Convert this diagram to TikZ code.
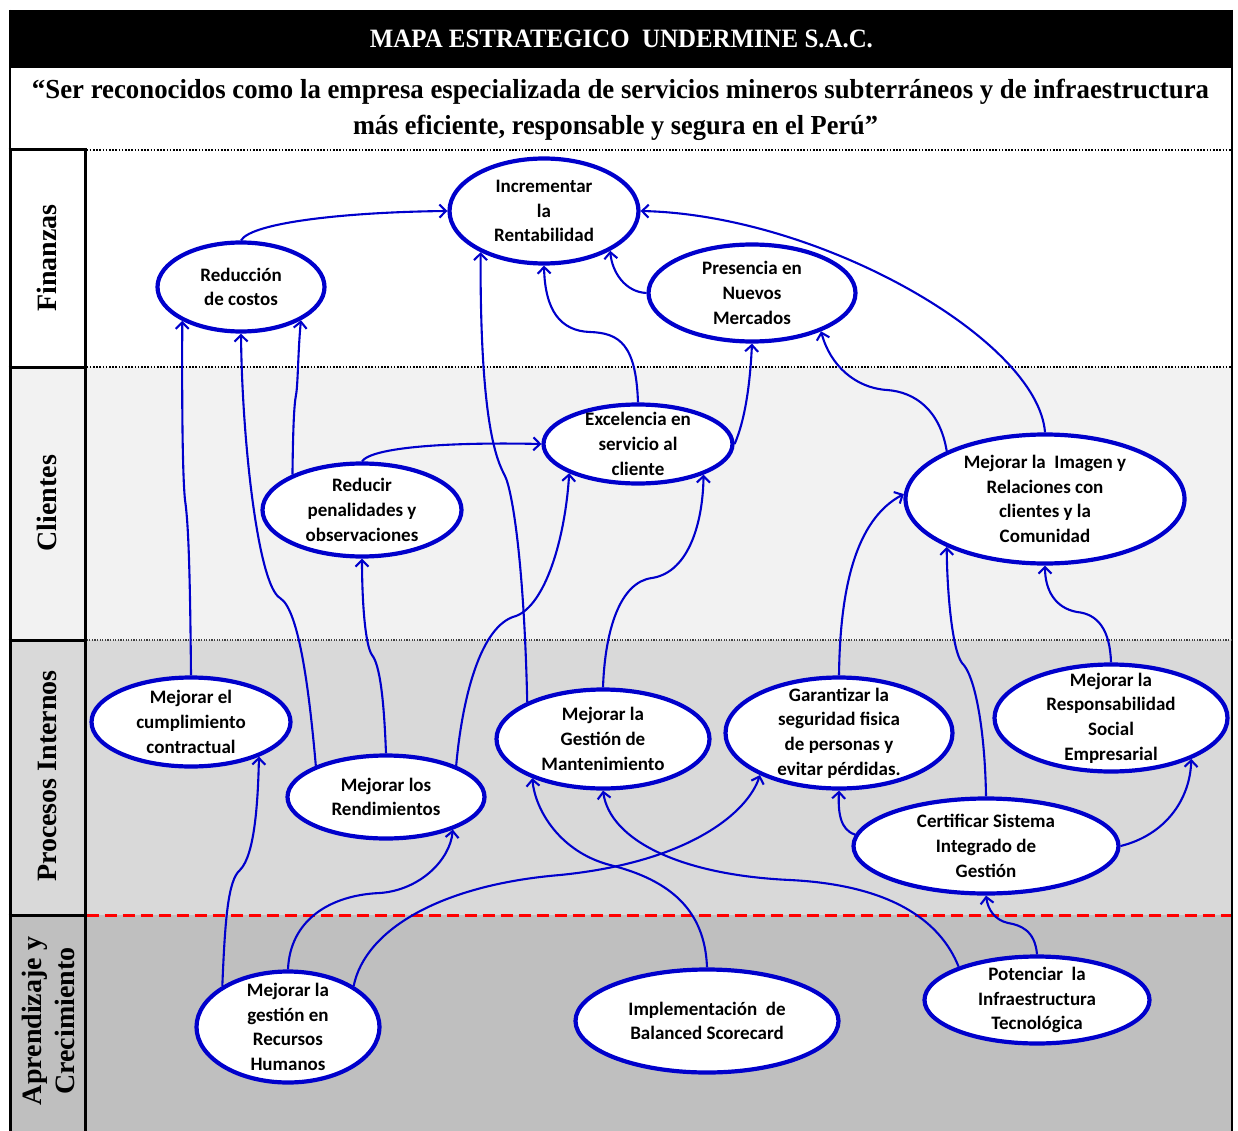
\documentclass[tikz,border=0pt]{standalone}
\usepackage{fontspec}
\usepackage{graphicx}
\setmainfont{Liberation Serif}
\newfontfamily\carl{Carlito}
\usetikzlibrary{shapes.geometric,arrows.meta}
\definecolor{objblue}{HTML}{0000CC}
\definecolor{rowA}{HTML}{F2F2F2}
\definecolor{rowB}{HTML}{D9D9D9}
\definecolor{rowC}{HTML}{BFBFBF}
\begin{document}
\begin{tikzpicture}[x=1pt,y=-1pt,
  obj/.style n args={2}{ellipse, draw=objblue, line width=4.2pt, fill=white, inner sep=0pt, minimum width=#1pt, minimum height=#2pt},
  lbl/.style={font=\carl\bfseries\fontsize{19}{24.7}\selectfont, align=center, inner sep=0pt, text=black},
  conn/.style={draw=objblue, line width=2.1pt, -{Straight Barb[length=6.5pt,width=13pt]}},
  sect/.style={font=\bfseries\fontsize{28}{33}\selectfont, rotate=90, align=center, inner sep=0pt},
  dotline/.style={line width=1.2pt, dash pattern=on 1.6pt off 1.6pt},
]
\useasboundingbox (0,0) rectangle (1238,1131);
% backgrounds
\fill[white] (0,0) rectangle (1238,1131);
\fill[black] (10,10) rectangle (1232,68);
\fill[rowA] (10,367) rectangle (1232,640);
\fill[rowB] (10,640) rectangle (1232,915);
\fill[rowC] (10,915) rectangle (1232,1131);
% frame
\draw[line width=2.5pt] (1232,10) -- (1232,1131);
\draw[line width=2pt] (10,10) -- (10,150);
\draw[line width=3pt] (10,150) -- (10,1131);
\draw[line width=3pt] (85,150) -- (85,1131);
\foreach \yy in {150,367,640,915} \draw[line width=3pt] (8.5,\yy) -- (86.5,\yy);
\draw[dotline] (86.5,150) -- (1231,150);
\draw[dotline] (86.5,367) -- (1231,367);
\draw[line width=1.3pt, dash pattern=on 1.3pt off 1.3pt, black!75] (86.5,640) -- (1231,640);
\draw[red, line width=3pt, dash pattern=on 12pt off 6pt] (86.5,915) -- (1231,915);
% titles
\node[text=white, font=\bfseries\fontsize{26.5}{30}\selectfont, anchor=base, inner sep=0pt] (title) at (621.5,48) {\resizebox{503pt}{\height}{MAPA ESTRATEGICO\ \ UNDERMINE S.A.C.}};
\node[font=\bfseries\fontsize{27.5}{30}\selectfont, anchor=base, inner sep=0pt] (vis1) at (620.5,99) {\resizebox{1177pt}{\height}{“Ser reconocidos como la empresa especializada de servicios mineros subterráneos y de infraestructura}};
\node[font=\bfseries\fontsize{27.5}{30}\selectfont, anchor=base, inner sep=0pt] (vis2) at (615.5,135) {\resizebox{525pt}{\height}{más eficiente, responsable y segura en el Perú”}};
% section labels
\node[sect] (sfin) at (47,258) {Finanzas};
\node[sect] (scli) at (47,503) {Clientes};
\node[sect] (spro) at (47,776) {Procesos Internos};
\node[sect] (sapr) at (48,1021) {Aprendizaje y\\Crecimiento};
% objectives
\node[obj={189}{105}, label={[lbl]center:{Incrementar\\la\\Rentabilidad}}] (inc) at (544,211) {};
\node[obj={167}{89}, label={[lbl]center:{Reducción\\de costos}}] (red) at (241,287) {};
\node[obj={207}{97}, label={[lbl]center:{Presencia en\\Nuevos\\Mercados}}] (pres) at (752,293) {};
\node[obj={189}{79}, label={[lbl]center:{Excelencia en\\servicio al\\cliente}}] (exc) at (638,444) {};
\node[obj={199}{93}, label={[lbl]center:{Reducir\\penalidades y\\observaciones}}] (redp) at (362,510) {};
\node[obj={279}{129}, label={[lbl]center:{Mejorar la\ \ Imagen y\\Relaciones con\\clientes y la\\Comunidad}}] (img) at (1045,499) {};
\node[obj={199}{89}, label={[lbl]center:{Mejorar el\\cumplimiento\\contractual}}] (cump) at (191,722) {};
\node[obj={197}{83}, label={[lbl]center:{Mejorar los\\Rendimientos}}] (rend) at (386,797) {};
\node[obj={213}{99}, label={[lbl]center:{Mejorar la\\Gestión de\\Mantenimiento}}] (mant) at (603,739) {};
\node[obj={227}{111}, label={[lbl]center:{Garantizar la\\seguridad fisica\\de personas y\\evitar pérdidas.}}] (gar) at (839,733) {};
\node[obj={233}{107}, label={[lbl]center:{Mejorar la\\Responsabilidad\\Social\\Empresarial}}] (resp) at (1111,718) {};
\node[obj={265}{95}, label={[lbl]center:{Certificar Sistema\\Integrado de\\Gestión}}] (cert) at (986,846) {};
\node[obj={183}{111}, label={[lbl]center:{Mejorar la\\gestión en\\Recursos\\Humanos}}] (rrhh) at (288,1027) {};
\node[obj={263}{103}, label={[lbl]center:{Implementación\ \ de\\Balanced Scorecard}}] (bsc) at (707,1021) {};
\node[obj={225}{87}, label={[lbl]center:{Potenciar\ \ la\\Infraestructura\\Tecnológica}}] (pot) at (1037,1000) {};
% connectors
\draw[conn] (red.north) .. controls (252,222) and (350,212) .. (inc.west);
\draw[conn] (img.north) .. controls (1038,340) and (820,215) .. (inc.east);
\draw[conn] (pres.west) .. controls (625,292) and (612,272) .. (inc.-31);
\draw[conn] (exc.north) .. controls (636,345) and (620,333) .. (590,332) .. controls (560,331) and (545,310) .. (inc.south);
\draw[conn] (mant.154) .. controls (524,560) and (512,490) .. (505,476) .. controls (498,462) and (480,430) .. (inc.213);
\draw[conn] (exc.east) .. controls (745,420) and (750,385) .. (pres.south);
\draw[conn] (img.154) .. controls (940,410) and (915,392) .. (887,390) .. controls (855,388) and (830,365) .. (pres.-29);
\draw[conn] (cump.north) .. controls (190,560) and (188,520) .. (185,500) .. controls (182,470) and (182,380) .. (red.210);
\draw[conn] (rend.156) .. controls (310,700) and (300,610) .. (280,598) .. controls (258,585) and (242,440) .. (red.south);
\draw[conn] (redp.153) .. controls (293,430) and (294,405) .. (296,395) .. controls (298,385) and (298,350) .. (red.-29);
\draw[conn] (redp.north) .. controls (372,447) and (450,442) .. (exc.west);
\draw[conn] (rend.north) .. controls (384,700) and (380,665) .. (372,655) .. controls (365,645) and (362,600) .. (redp.south);
\draw[conn] (rend.24) .. controls (462,700) and (480,625) .. (516,616) .. controls (545,605) and (565,540) .. (exc.203);
\draw[conn] (mant.north) .. controls (605,630) and (620,582) .. (652,578) .. controls (690,572) and (703,520) .. (exc.-25);
\draw[conn] (gar.north) .. controls (840,590) and (855,520) .. (img.178);
\draw[conn] (cert.north) .. controls (985,730) and (975,675) .. (962,663) .. controls (952,650) and (947,590) .. (img.206);
\draw[conn] (resp.north) .. controls (1110,630) and (1098,614) .. (1077,612) .. controls (1055,608) and (1045,590) .. (img.south);
\draw[conn] (cert.175) .. controls (840,830) and (838,812) .. (gar.south);
\draw[conn] (cert.east) .. controls (1165,835) and (1190,800) .. (resp.-27);
\draw[conn] (rrhh.148) .. controls (225,920) and (228,880) .. (240,870) .. controls (255,855) and (258,800) .. (cump.-27);
\draw[conn] (rrhh.north) .. controls (290,920) and (330,895) .. (380,893) .. controls (420,890) and (450,860) .. (rend.-26);
\draw[conn] (rrhh.32) .. controls (365,930) and (440,885) .. (560,875) .. controls (690,862) and (748,812) .. (gar.208);
\draw[conn] (bsc.north) .. controls (705,910) and (670,880) .. (610,865) .. controls (560,852) and (535,810) .. (mant.209);
\draw[conn] (pot.157) .. controls (940,920) and (890,885) .. (790,880) .. controls (680,875) and (610,840) .. (mant.south);
\draw[conn] (pot.north) .. controls (1035,930) and (1020,925) .. (1008,923) .. controls (995,920) and (988,910) .. (cert.south);
\end{tikzpicture}
\end{document}
